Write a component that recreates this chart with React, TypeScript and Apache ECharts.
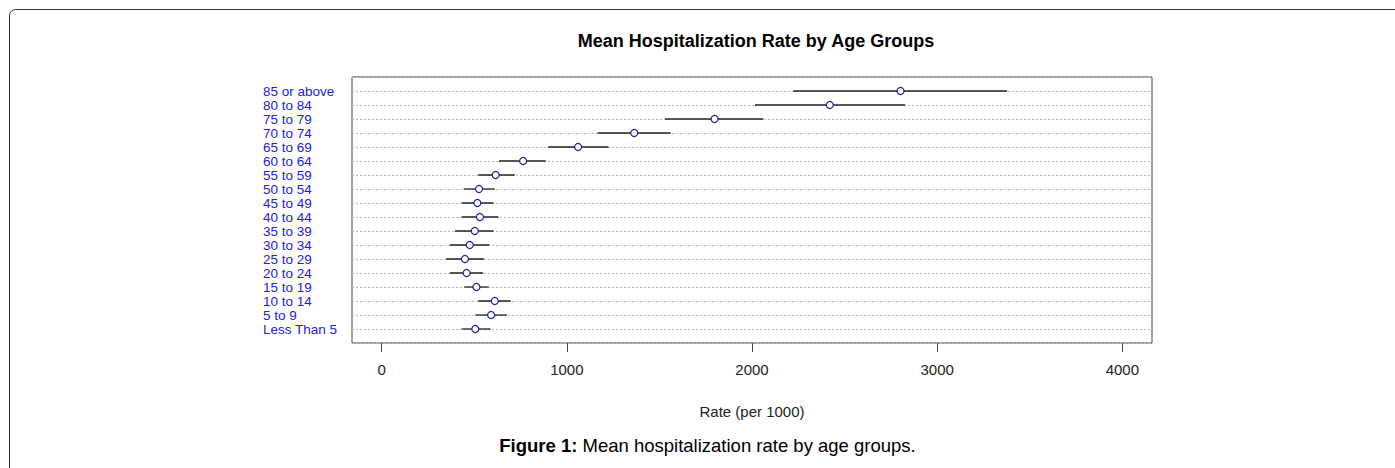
import React, { useEffect, useRef } from "react";
import * as echarts from "echarts";

// Age groups from bottom (row 1) to top (row 18)
const ageGroups: string[] = [
  "Less Than 5", "5 to 9", "10 to 14", "15 to 19", "20 to 24", "25 to 29",
  "30 to 34", "35 to 39", "40 to 44", "45 to 49", "50 to 54", "55 to 59",
  "60 to 64", "65 to 69", "70 to 74", "75 to 79", "80 to 84", "85 or above",
];
const meanRate: number[] = [
  506, 591, 611, 512, 459, 450, 476, 503, 531, 517, 526, 616,
  764, 1061, 1364, 1798, 2420, 2802,
];
const lowerRate: number[] = [
  432, 506, 521, 447, 368, 348, 368, 395, 432, 432, 443, 521,
  634, 899, 1166, 1530, 2016, 2223,
];
const upperRate: number[] = [
  588, 677, 697, 578, 548, 553, 582, 604, 631, 604, 611, 719,
  886, 1225, 1561, 2061, 2827, 3378,
];
const xTicks: number[] = [0, 1000, 2000, 3000, 4000];

const FONT = "'Liberation Sans', Arial, sans-serif";

export default function App() {
  const ref = useRef<HTMLDivElement>(null);
  useEffect(() => {
    if (!ref.current) return;
    const chart = echarts.init(ref.current, null, { renderer: "svg" });
    const intervals = ageGroups.map((_, i) => [lowerRate[i], upperRate[i], i + 1]);
    const points = ageGroups.map((_, i) => [meanRate[i], i + 1]);
    chart.setOption({
      animation: false,
      backgroundColor: "#ffffff",
      textStyle: { fontFamily: FONT },
      grid: {
        left: 352,
        top: 77,
        width: 800,
        height: 266,
        show: true,
        borderColor: "#444",
        borderWidth: 1,
        containLabel: false,
      },
      xAxis: {
        type: "value",
        min: -160,
        max: 4160,
        axisLine: { show: false },
        splitLine: { show: false },
        axisTick: {
          show: true,
          length: 9,
          customValues: xTicks,
          lineStyle: { color: "#444", width: 1 },
        },
        axisLabel: {
          customValues: xTicks,
          margin: 19,
          fontSize: 15,
          color: "#222",
          fontFamily: FONT,
          formatter: (v: number) => String(v),
        },
        name: "Rate (per 1000)",
        nameLocation: "middle",
        nameGap: 61,
        nameTextStyle: { fontSize: 15, color: "#222", fontFamily: FONT },
      },
      yAxis: {
        type: "value",
        min: 0,
        max: 19,
        interval: 1,
        axisLine: { show: false },
        axisTick: { show: false },
        axisLabel: {
          align: "left",
          margin: 89,
          fontSize: 13.5,
          lineHeight: 13,
          color: "#2222dd",
          fontFamily: FONT,
          formatter: (v: number) => ageGroups[v - 1] || "",
        },
        splitLine: {
          show: true,
          lineStyle: { color: "#b8b8b8", width: 1, type: [2, 2] },
        },
      },
      series: [
        {
          type: "custom",
          data: intervals,
          encode: { x: [0, 1], y: 2 },
          renderItem: (params: any, api: any) => {
            const p1 = api.coord([api.value(0), api.value(2)]);
            const p2 = api.coord([api.value(1), api.value(2)]);
            return {
              type: "line",
              shape: { x1: p1[0], y1: p1[1], x2: p2[0], y2: p2[1] },
              style: { stroke: "#222", lineWidth: 1.3 },
            };
          },
          z: 2,
        },
        {
          type: "scatter",
          data: points,
          symbol: "circle",
          symbolSize: 7,
          itemStyle: { color: "#ffffff", borderColor: "#2020a0", borderWidth: 1.2, opacity: 1 },
          z: 3,
        },
      ],
      graphic: [
        {
          type: "rect",
          shape: { x: 9.5, y: 9.5, width: 1420, height: 480, r: 6 },
          style: { fill: "none", stroke: "#333", lineWidth: 1 },
          silent: true,
        },
        {
          type: "text",
          x: 756,
          y: 41,
          style: {
            text: "Mean Hospitalization Rate by Age Groups",
            font: `bold 18px ${FONT}`,
            fill: "#000",
            textAlign: "center",
            textVerticalAlign: "middle",
          },
        },
        {
          type: "text",
          x: 707.5,
          y: 445,
          style: {
            text: "{b|Figure 1:} Mean hospitalization rate by age groups.",
            fontFamily: FONT,
            fontSize: 18.5,
            fill: "#000",
            textAlign: "center",
            textVerticalAlign: "middle",
            rich: {
              b: { fontWeight: "bold", fontSize: 18.5, fontFamily: FONT, fill: "#000" },
            },
          },
        },
      ],
    });
    return () => chart.dispose();
  }, []);
  return (
    <div
      ref={ref}
      style={{ position: "absolute", left: 0, top: 0, width: 1395, height: 468 }}
    />
  );
}
